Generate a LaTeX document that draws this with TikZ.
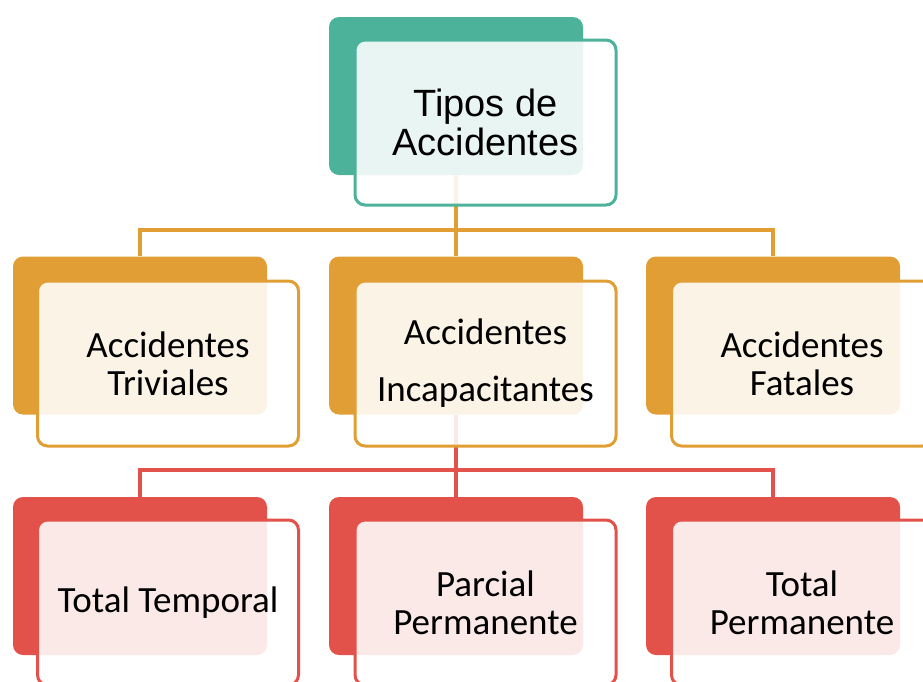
\documentclass[tikz,border=0pt]{standalone}
\usepackage{fontspec}
\setmainfont{Carlito}
\newfontfamily\arialfont{Liberation Sans}
\definecolor{teal1}{RGB}{76,179,154}
\definecolor{gold1}{RGB}{224,158,52}
\definecolor{red1}{RGB}{227,82,74}
\begin{document}
\begin{tikzpicture}[x=1pt,y=-1pt,
  backbox/.style={fill=#1, draw=none, rounded corners=10pt, minimum width=254pt, minimum height=158pt, inner sep=0pt},
  frontbox/.style={fill=white, fill opacity=0.88, text opacity=1, draw=#1, line width=3pt, rounded corners=10pt, minimum width=261pt, minimum height=165pt, inner sep=0pt, align=center, text=black},
  conn/.style={draw=#1, line width=4.5pt},
  lvone/.style={font=\arialfont\fontsize{38}{39}\selectfont},
  lvtwo/.style={font=\fontsize{37}{38}\selectfont}
]
\useasboundingbox (0,0) rectangle (923,681);
\clip (0,0) rectangle (923,681);
% back boxes
\node[backbox=teal1] (b0) at (456,96) {};
\node[backbox=gold1] (b1) at (140,335.5) {};
\node[backbox=gold1] (b2) at (456,335.5) {};
\node[backbox=gold1] (b3) at (773,335.5) {};
\node[backbox=red1] (c1) at (140,576) {};
\node[backbox=red1] (c2) at (456,576) {};
\node[backbox=red1] (c3) at (773,576) {};
% connectors
\coordinate (busA) at (456,230);
\coordinate (busB) at (456,470);
\draw[conn=gold1] (b0.south) -- (busA);
\draw[conn=gold1] (b1.north) |- (busA) -| (b3.north);
\draw[conn=gold1] (busA) -- (b2.north);
\draw[conn=red1] (b2.south) -- (busB);
\draw[conn=red1] (c1.north) |- (busB) -| (c3.north);
\draw[conn=red1] (busB) -- (c2.north);
% front boxes
\node[frontbox=teal1, lvone] (f0) at (485.5,122.5) {Tipos de\\Accidentes};
\node[frontbox=gold1, lvtwo] (f1) at (168,363.5) {Accidentes\\Triviales};
\node[frontbox=gold1, lvtwo] (f2) at (485.5,363.5) {Accidentes\\[19pt]Incapacitantes};
\node[frontbox=gold1, lvtwo] (f3) at (802,363.5) {Accidentes\\Fatales};
\node[frontbox=red1, lvtwo] (g1) at (168,602.5) {Total Temporal};
\node[frontbox=red1, lvtwo] (g2) at (485.5,602.5) {Parcial\\Permanente};
\node[frontbox=red1, lvtwo] (g3) at (802,602.5) {Total\\Permanente};
\end{tikzpicture}
\end{document}
